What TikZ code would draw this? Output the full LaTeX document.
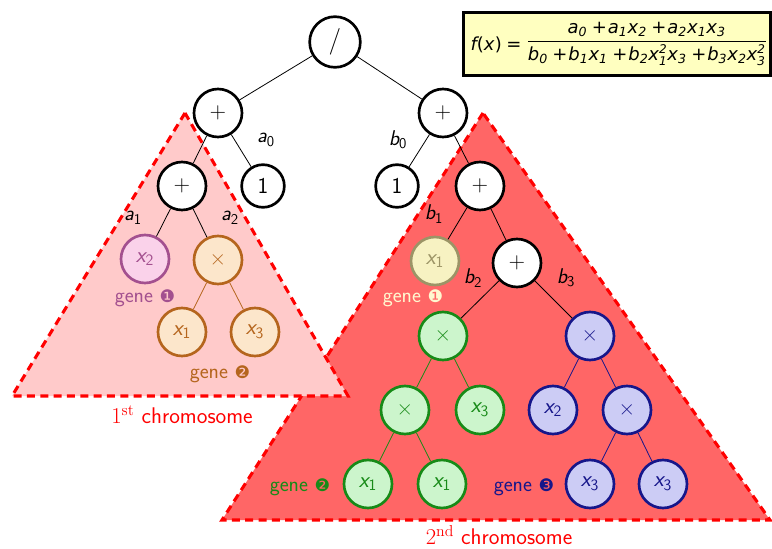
\documentclass[tikz,border=0pt]{standalone}
\usepackage{amsmath}
\usepackage{fontspec}
\newfontfamily\djv{DejaVu Sans}
\definecolor{pinkD}{HTML}{A3508F}
\definecolor{pinkL}{HTML}{FAD2EA}
\definecolor{orD}{HTML}{B5651D}
\definecolor{orL}{HTML}{FCE6CB}
\definecolor{ylD}{HTML}{9C9466}
\definecolor{ylL}{HTML}{F7F2C2}
\definecolor{ylT}{HTML}{FFF8D0}
\definecolor{grD}{HTML}{178A17}
\definecolor{grL}{HTML}{CCF5CC}
\definecolor{blD}{HTML}{16168A}
\definecolor{blL}{HTML}{CCCCF5}
\definecolor{triA}{HTML}{FFCACA}
\definecolor{triB}{HTML}{FF6666}
\definecolor{boxY}{HTML}{FFFFC0}
\newcommand\xv[1]{{\itshape x}\textsubscript{#1}}
\newcommand\av[2]{{\itshape #1}\textsubscript{#2}}
\newcommand\fv[2]{{\itshape #1\textsubscript{#2}}}
\newcommand\fvv[3]{$\hbox{\itshape #1}_{\hbox{\djv\itshape\fontsize{9}{9}\selectfont #3}}^{\hbox{\djv\itshape\fontsize{9}{9}\selectfont #2}}$}
\newcommand\pl{\hspace{0.25em}+\hspace{0.05em}}
\begin{document}
\begin{tikzpicture}[x=0.75pt,y=-0.75pt,
  nd/.style={circle, draw, line width=2pt, minimum size=36pt, inner sep=0pt, fill=white, font=\sffamily\fontsize{17}{17}\selectfont},
  pinkn/.style={nd, draw=pinkD, fill=pinkL, text=pinkD},
  orn/.style={nd, draw=orD, fill=orL, text=orD},
  yln/.style={nd, draw=ylD, fill=ylL, text=ylD},
  grn/.style={nd, draw=grD, fill=grL, text=grD},
  bln/.style={nd, draw=blD, fill=blL, text=blD},
  edg/.style={line width=0.6pt},
  lbl/.style={font=\sffamily\fontsize{16}{16}\selectfont, inner sep=0pt},
  genel/.style={font=\sffamily\fontsize{16}{16}\selectfont, inner sep=0pt},
  chrom/.style={draw=red, line width=2.3pt, dash pattern=on 6pt off 4pt},
  chroml/.style={font=\sffamily\fontsize{17}{17}\selectfont, text=red, inner sep=0pt}
]
\useasboundingbox (0,0) rectangle (772,549);
% chromosomes
\fill[triB] (483,113) -- (222,520) -- (770,520) -- cycle;
\draw[chrom] (483,113) -- (222,520) -- (770,520) -- cycle;
\fill[triA] (185,113) -- (12,396) -- (348,396) -- cycle;
\draw[chrom] (185,113) -- (12,396) -- (348,396) -- cycle;
\node[chroml] (c1) at (182,415) {\textrm{1\textsuperscript{st}} chromosome};
\node[chroml] (c2) at (499,535) {\textrm{2\textsuperscript{nd}} chromosome};
% formula
\node[draw, line width=2.2pt, fill=boxY, minimum width=230.5pt, minimum height=47pt, inner sep=0pt] (box) at (617,44) {};
\node[inner sep=0pt, font=\djv\fontsize{13.5}{13.5}\selectfont] (fx) at (496,45) {{\itshape f}(\textit{x})\hspace{0.25em}=};
\node[inner sep=0pt, font=\djv\fontsize{13.5}{13.5}\selectfont, anchor=west] (frac) at (526,44)
 {$\dfrac{\hbox{\fv{a}{0}\pl\fv{a}{1}\fv{x}{2}\pl\fv{a}{2}\fv{x}{1}\fv{x}{3}}}
          {\hbox{\fv{b}{0}\pl\fv{b}{1}\fv{x}{1}\pl\fv{b}{2}\fvv{x}{2}{1}\fv{x}{3}\pl\fv{b}{3}\fv{x}{2}\fvv{x}{2}{3}}}$};
% nodes
\node[nd, minimum size=38pt, font=\sffamily\fontsize{20}{20}\selectfont] (root) at (335,42) {/};
\node[nd] (lp) at (218,113) {+};
\node[nd] (rp) at (443,113) {+};
\node[nd] (lip) at (182,186) {+};
\node[nd, minimum size=32pt] (one1) at (263,186) {1};
\node[nd, minimum size=32pt] (one2) at (397,186) {1};
\node[nd] (rip) at (480,186) {+};
\node[pinkn] (px2) at (145,259) {\xv{2}};
\node[orn] (otm) at (218,260) {×};
\node[orn] (ox1) at (182,332) {\xv{1}};
\node[orn] (ox3) at (255,332) {\xv{3}};
\node[yln] (yx1) at (435,261) {\xv{1}};
\node[nd] (rp2) at (517,263) {+};
\node[grn] (gtm) at (443,336) {×};
\node[bln] (btm) at (590,336) {×};
\node[grn] (gtm2) at (405,410) {×};
\node[grn] (gx3) at (480,410) {\xv{3}};
\node[bln] (bx2) at (553,410) {\xv{2}};
\node[bln] (btm2) at (627,410) {×};
\node[grn] (gx1a) at (368,484) {\xv{1}};
\node[grn] (gx1b) at (442,484) {\xv{1}};
\node[bln] (bx3a) at (590,484) {\xv{3}};
\node[bln] (bx3b) at (663,484) {\xv{3}};
% edges
\draw[edg] (root) -- (lp);
\draw[edg] (root) -- (rp);
\draw[edg] (lp) -- (lip);
\draw[edg] (lp) -- (one1);
\draw[edg] (rp) -- (one2);
\draw[edg] (rp) -- (rip);
\draw[edg] (lip) -- (px2);
\draw[edg] (lip) -- (otm);
\draw[edg] (rip) -- (yx1);
\draw[edg] (rip) -- (rp2);
\draw[edg] (rp2) -- (gtm);
\draw[edg] (rp2) -- (btm);
\draw[edg, orD] (otm) -- (ox1);
\draw[edg, orD] (otm) -- (ox3);
\draw[edg, grD] (gtm) -- (gtm2);
\draw[edg, grD] (gtm) -- (gx3);
\draw[edg, grD] (gtm2) -- (gx1a);
\draw[edg, grD] (gtm2) -- (gx1b);
\draw[edg, blD] (btm) -- (bx2);
\draw[edg, blD] (btm) -- (btm2);
\draw[edg, blD] (btm2) -- (bx3a);
\draw[edg, blD] (btm2) -- (bx3b);
% edge labels
\node[lbl] (la0) at (266,140) {\av{a}{0}};
\node[lbl] (lb0) at (398,140) {\av{b}{0}};
\node[lbl] (la1) at (133,218) {\av{a}{1}};
\node[lbl] (la2) at (230,218) {\av{a}{2}};
\node[lbl] (lb1) at (434,214) {\av{b}{1}};
\node[lbl] (lb2) at (473,278) {\av{b}{2}};
\node[lbl] (lb3) at (566,278) {\av{b}{3}};
% gene labels
\node[genel, text=pinkD] (g1a) at (145,298) {gene {\djv\fontsize{13}{13}\selectfont ❶}};
\node[genel, text=orD] (g2a) at (220,374) {gene {\djv\fontsize{13}{13}\selectfont ❷}};
\node[genel, text=ylT] (g1b) at (413,298) {gene {\djv\fontsize{13}{13}\selectfont ❶}};
\node[genel, text=grD] (g2b) at (300,487) {gene {\djv\fontsize{13}{13}\selectfont ❷}};
\node[genel, text=blD] (g3b) at (524,487) {gene {\djv\fontsize{13}{13}\selectfont ❸}};
\end{tikzpicture}
\end{document}
